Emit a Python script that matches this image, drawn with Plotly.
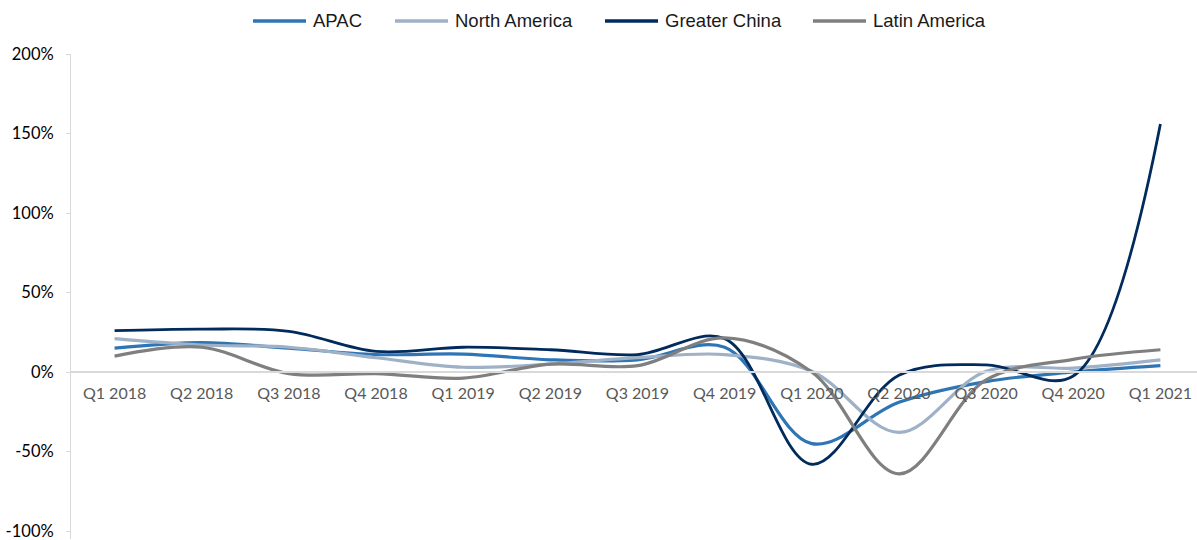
import plotly.graph_objects as go

# Quarterly growth by region (percent)
quarters = ["Q1 2018", "Q2 2018", "Q3 2018", "Q4 2018",
            "Q1 2019", "Q2 2019", "Q3 2019", "Q4 2019",
            "Q1 2020", "Q2 2020", "Q3 2020", "Q4 2020", "Q1 2021"]

apac = [15, 18.5, 15, 11, 11.3, 7.7, 7.7, 15.6, -45, -19, -6, 0, 4]
north_america = [21, 17, 15.6, 9, 3, 5, 9, 11, 0.5, -38, 0.5, 2.5, 7.7]
greater_china = [26, 27, 25.6, 13, 15.6, 14, 11, 21, -58, -2, 4.5, -2.5, 156]
latin_america = [10, 15.6, -1, -1, -3.8, 5, 4, 21.5, 0, -64, -5, 8, 14]

y_ticks = [-100, -50, 0, 50, 100, 150, 200]
y_tick_labels = [f"{v}%" for v in y_ticks]

series = [
    ("APAC", apac, "#2E75B6", 3.2),
    ("North America", north_america, "#9FB1C6", 3.2),
    ("Greater China", greater_china, "#002B5C", 2.8),
    ("Latin America", latin_america, "#7F7F7F", 3.2),
]

# Figure / plot-area geometry in pixels
W, H = 1197, 540
M_L, M_R, M_T, M_B = 71, 0, 54, 1
PLOT_W = W - M_L - M_R
PLOT_H = H - M_T - M_B
Y_MIN, Y_MAX = -105.0, 200

# Legend row across the top: left edge of each key, key length, row height
LEGEND_X = [253, 395, 605, 813]
KEY_LEN = 53
KEY_GAP = 5
LEGEND_Y = 21


def px_to_paper_x(px):
    return (px - M_L) / PLOT_W


def px_to_paper_y(py):
    return (H - M_B - py) / PLOT_H


fig = go.Figure()
for name, vals, color, width in series:
    fig.add_trace(go.Scatter(
        x=quarters, y=vals, name=name, mode="lines",
        line=dict(color=color, width=width, shape="spline", smoothing=1.0),
        showlegend=False,
    ))

# Legend keys drawn as long line swatches with labels
for (name, _, color, width), left in zip(series, LEGEND_X):
    fig.add_shape(
        type="line", xref="paper", yref="paper",
        x0=px_to_paper_x(left), x1=px_to_paper_x(left + KEY_LEN),
        y0=px_to_paper_y(LEGEND_Y), y1=px_to_paper_y(LEGEND_Y),
        line=dict(color=color, width=3.5),
    )
    fig.add_annotation(
        xref="paper", yref="paper",
        x=px_to_paper_x(left + KEY_LEN + KEY_GAP), y=px_to_paper_y(LEGEND_Y - 1),
        xanchor="left", yanchor="middle", showarrow=False,
        text=name,
        font=dict(family="Liberation Sans, Arial, sans-serif", size=18.5, color="#1A1A1A"),
    )

fig.update_layout(
    width=W, height=H,
    margin=dict(l=M_L, r=M_R, t=M_T, b=M_B, autoexpand=False),
    paper_bgcolor="white", plot_bgcolor="white",
    showlegend=False,
    xaxis=dict(
        type="category", range=[-0.5, 12.42],
        anchor="free", position=-Y_MIN / (Y_MAX - Y_MIN),
        showline=True, linecolor="#D9D9D9", linewidth=1.5,
        showgrid=False, zeroline=False, ticks="",
        tickfont=dict(family="Lato, Open Sans, sans-serif", size=16, color="#595959"),
        ticklabelstandoff=7, automargin=False,
    ),
    yaxis=dict(
        range=[Y_MIN, Y_MAX], tickmode="array",
        tickvals=y_ticks, ticktext=y_tick_labels,
        showline=True, linecolor="#D9D9D9", linewidth=1,
        ticks="outside", ticklen=4, tickcolor="#D9D9D9",
        showgrid=False, zeroline=False,
        tickfont=dict(family="Lato, Open Sans, sans-serif", size=16.5, color="#000000"),
        ticklabelstandoff=9, ticklabeloverflow="allow", automargin=False,
    ),
)

fig.write_html("out.html")
